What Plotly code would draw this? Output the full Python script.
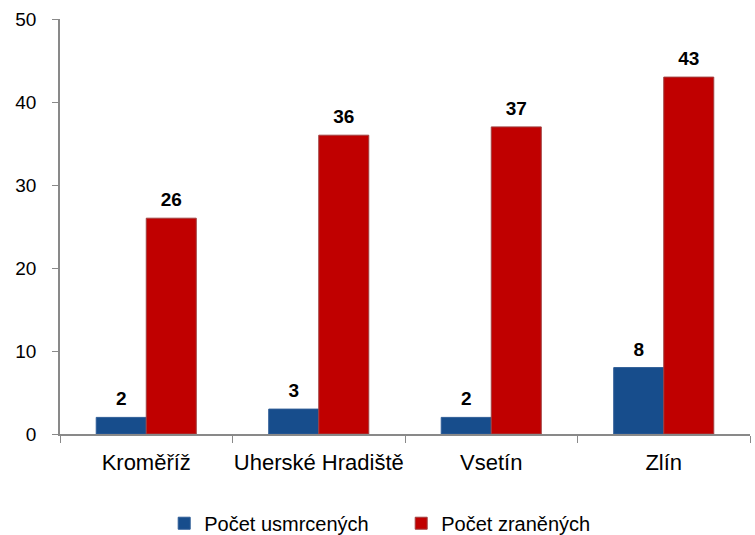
import plotly.graph_objects as go

categories = ["Kroměříž", "Uherské Hradiště", "Vsetín", "Zlín"]
usmrceni = [2, 3, 2, 8]
zraneni = [26, 36, 37, 43]
y_ticks = [0, 10, 20, 30, 40, 50]

FONT = "Liberation Sans, Arial"
series = [
    ("Počet usmrcených", usmrceni, "#174D8C", "#2E5C96"),
    ("Počet zraněných", zraneni, "#C00000", "#A04040"),
]

fig = go.Figure()
for i, (name, vals, col, lcol) in enumerate(series):
    fig.add_trace(go.Bar(
        x=categories, y=vals, name=name, offsetgroup=str(i),
        marker=dict(color=col, line=dict(color=lcol, width=1)),
    ))
for i, (name, vals, col, lcol) in enumerate(series):
    fig.add_trace(go.Scatter(
        x=categories, y=vals, mode="markers+text", offsetgroup=str(i),
        marker=dict(size=10, opacity=0), text=[f"<b>{v}</b>" for v in vals],
        textposition="top center", showlegend=False, hoverinfo="skip",
        textfont=dict(family=FONT, size=19, color="black"), cliponaxis=False,
    ))

fig.update_layout(
    width=755, height=535,
    margin=dict(l=60, r=5, t=19, b=101),
    paper_bgcolor="white", plot_bgcolor="white",
    barmode="group", bargap=0.42, bargroupgap=0,
    scattermode="group", scattergap=0.42,
    font=dict(family=FONT, size=19, color="black"),
    showlegend=True,
    legend=dict(orientation="h", x=0.151, xanchor="left",
                yref="container", y=0.022, yanchor="middle",
                font=dict(size=20), itemwidth=30, traceorder="normal", entrywidth=192),
    xaxis=dict(showline=True, linecolor="#898989", linewidth=1.5,
               ticks="outside", tickson="boundaries", ticklen=7, tickcolor="#898989",
               tickfont=dict(size=22), showgrid=False, automargin=False,
               ticklabelstandoff=8, tickangle=0),
    yaxis=dict(range=[0, 50], tickvals=y_ticks, showline=True, linecolor="#898989",
               linewidth=1.5, ticks="outside", ticklen=6, tickcolor="#898989",
               showgrid=False, zeroline=False, tickfont=dict(size=19),
               ticklabelstandoff=12, automargin=False),
)

fig.write_html(
    "out.html",
    config={"displayModeBar": False},
    post_script=(
        "var h=document.documentElement, b=document.body;"
        "h.style.margin='0'; h.style.padding='0'; h.style.overflow='hidden';"
        "b.style.margin='0'; b.style.padding='0'; b.style.overflow='hidden';"
    ),
)
